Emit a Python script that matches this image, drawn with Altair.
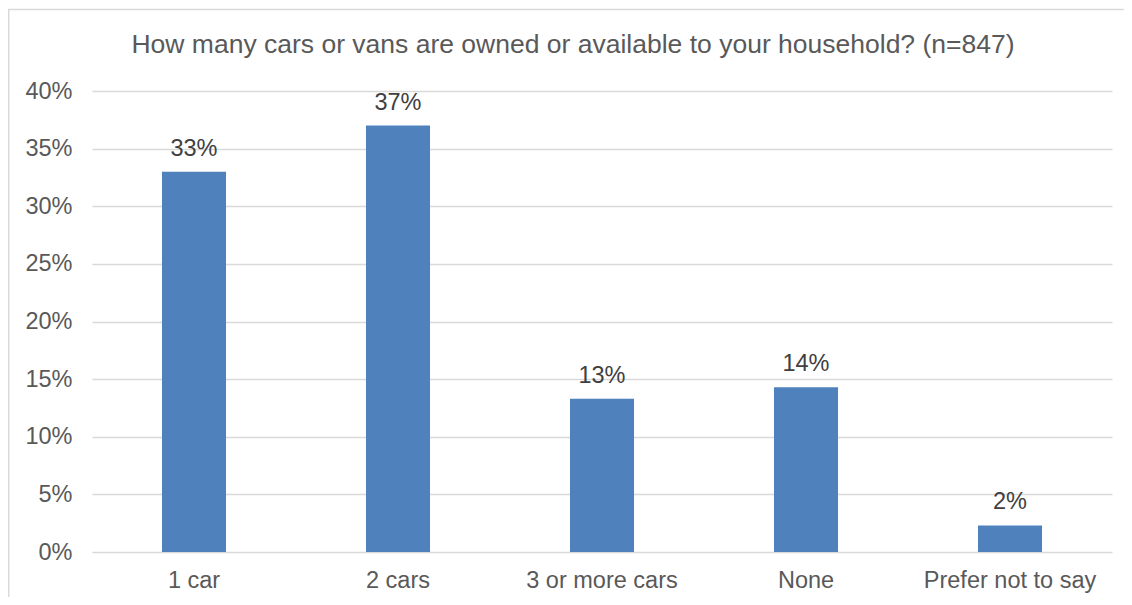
import altair as alt
import pandas as pd

title_text = "How many cars or vans are owned or available to your household? (n=847)"
categories = ["1 car", "2 cars", "3 or more cars", "None", "Prefer not to say"]
values = [33.0, 37.0, 13.3, 14.3, 2.3]
labels = ["33%", "37%", "13%", "14%", "2%"]
y_ticks = [0, 5, 10, 15, 20, 25, 30, 35, 40]

df = pd.DataFrame({"cat": categories, "val": values, "lab": labels})

FONT = "Liberation Sans"
FS = 23.5

x_enc = alt.X(
    "cat:N",
    sort=categories,
    scale=alt.Scale(paddingInner=0.686, paddingOuter=0.343),
    axis=alt.Axis(
        title=None, labelAngle=0, ticks=False, domain=False, grid=False,
        labelFontSize=FS, labelColor="#595959", labelFont=FONT, labelPadding=16,
    ),
)
y_enc = alt.Y(
    "val:Q",
    scale=alt.Scale(domain=[0, 40], nice=False),
    axis=alt.Axis(
        title=None, values=y_ticks, labelExpr="datum.value + '%'",
        ticks=False, domain=False, gridColor="#d9d9d9", gridWidth=1.3,
        labelFontSize=FS, labelColor="#595959", labelFont=FONT, labelPadding=20,
    ),
)

bars = alt.Chart(df).mark_bar(color="#4F81BD").encode(x=x_enc, y=y_enc)
text = alt.Chart(df).mark_text(
    baseline="alphabetic", dy=-16, fontSize=FS, color="#404040", font=FONT
).encode(x=alt.X("cat:N", sort=categories), y="val:Q", text="lab:N")

title_df = pd.DataFrame({"t": [title_text]})
title = alt.Chart(title_df).mark_text(
    fontSize=26.5, color="#595959", font=FONT, baseline="middle", align="center"
).encode(x=alt.value(481), y=alt.value(-46), text="t:N")

left_line = alt.Chart(title_df).mark_rule(color="#d9d9d9", strokeWidth=1.5).encode(
    x=alt.value(-83.3), y=alt.value(-82), y2=alt.value(620)
)
top_line = alt.Chart(title_df).mark_rule(color="#d9d9d9", strokeWidth=1.5).encode(
    x=alt.value(-84), x2=alt.value(1040), y=alt.value(-81.5)
)

chart = alt.layer(left_line, top_line, title, bars, text).properties(
    width=1020,
    height=461,
    autosize=alt.AutoSizeParams(type="none"),
    padding={"left": 84, "top": 83, "right": 12, "bottom": 45},
).configure(background="white").configure_view(stroke=None)

chart.save("out.html", embed_options={"renderer": "svg", "actions": False})
